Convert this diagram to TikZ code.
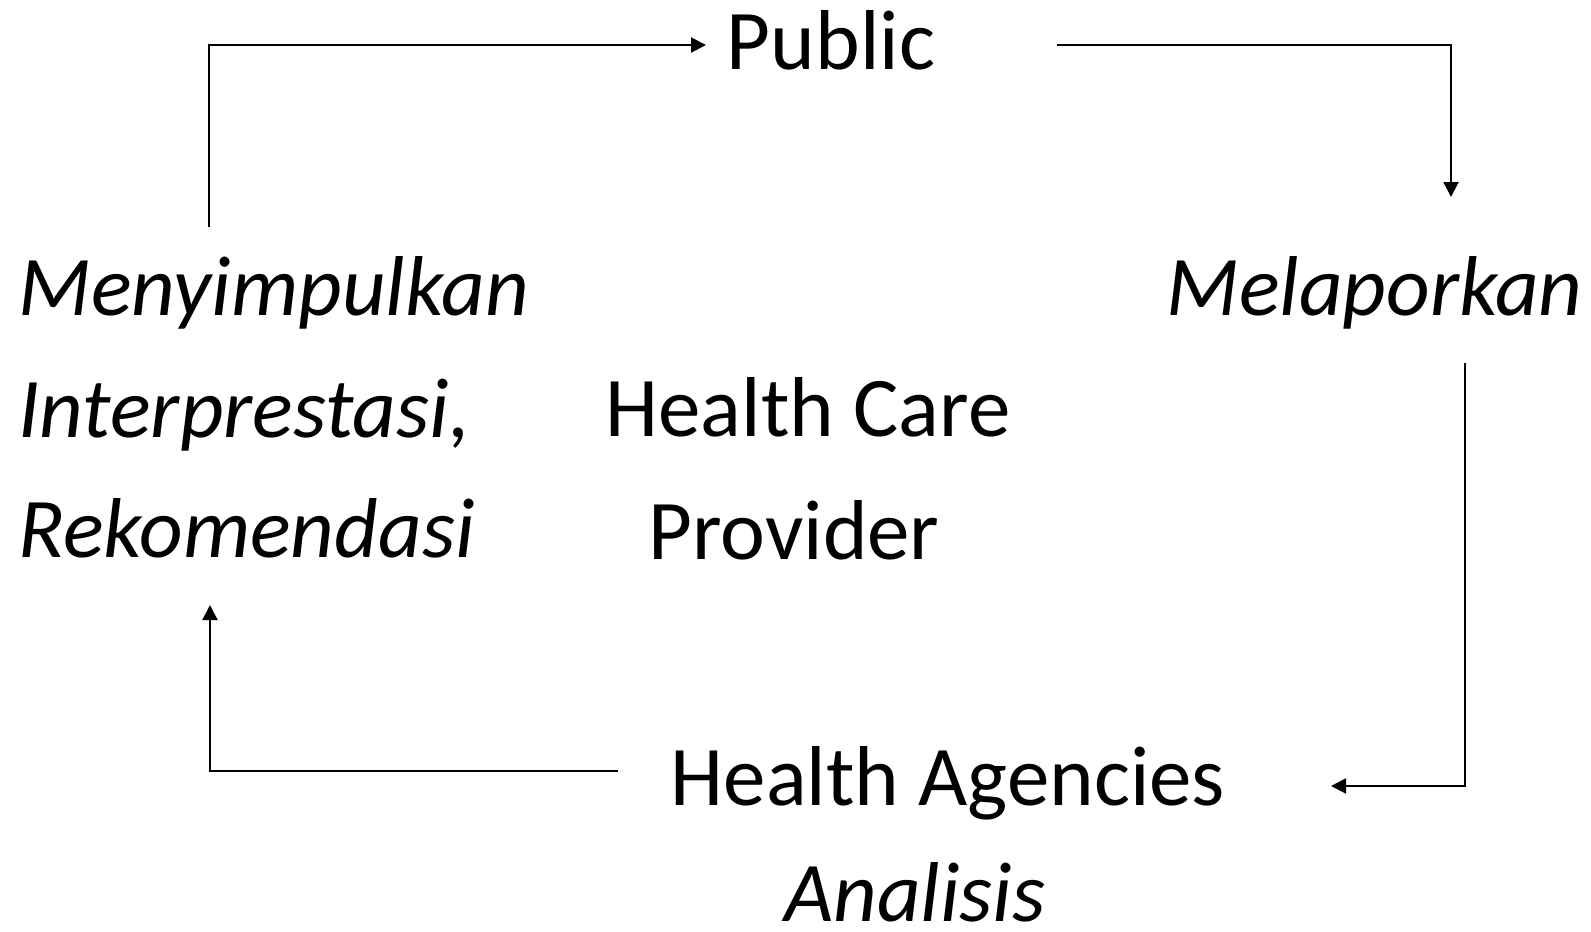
\documentclass[tikz,border=0pt]{standalone}
\usepackage{fontspec}
\setmainfont{Carlito}
\usetikzlibrary{arrows.meta}
\begin{document}
\begin{tikzpicture}[x=0.5pt,y=-0.5pt,
  lbl/.style={inner sep=0pt,font=\fontsize{42.5}{50}\selectfont},
  conn/.style={line width=1pt,-{Triangle[length=7.5pt,width=7.5pt]}}]
\useasboundingbox (0,0) rectangle (1591,932);
% text
\node[lbl,anchor=base] (pub) at (831,69) {Public};
\node[lbl,anchor=base east] (mel) at (1583,315) {\itshape Melaporkan};
\node[lbl,anchor=base west] (meny) at (18,315) {\itshape Menyimpulkan};
\node[lbl,anchor=base west] (inter) at (18,437) {\itshape Interprestasi,};
\node[lbl,anchor=base west] (rek) at (18,557) {\itshape Rekomendasi};
\node[lbl,anchor=base] (hc) at (808,436) {Health Care};
\node[lbl,anchor=base] (prov) at (794,559) {Provider};
\node[lbl,anchor=base] (ha) at (948,805) {Health Agencies};
\node[lbl,anchor=base] (an) at (915,921) {\itshape Analisis};
% connector points
\coordinate (a1) at (209,227);
\coordinate (a2) at (209,45);
\coordinate (a3) at (706,45);
\coordinate (b1) at (1057,45);
\coordinate (b2) at (1451,45);
\coordinate (b3) at (1451,197);
\coordinate (c1) at (1465,363);
\coordinate (c2) at (1465,786);
\coordinate (c3) at (1331,786);
\coordinate (d1) at (618,771);
\coordinate (d2) at (210,771);
\coordinate (d3) at (210,605);
\draw[conn] (a1) -- (a2) -- (a3);
\draw[conn] (b1) -- (b2) -- (b3);
\draw[conn] (c1) -- (c2) -- (c3);
\draw[conn] (d1) -- (d2) -- (d3);
\end{tikzpicture}
\end{document}
